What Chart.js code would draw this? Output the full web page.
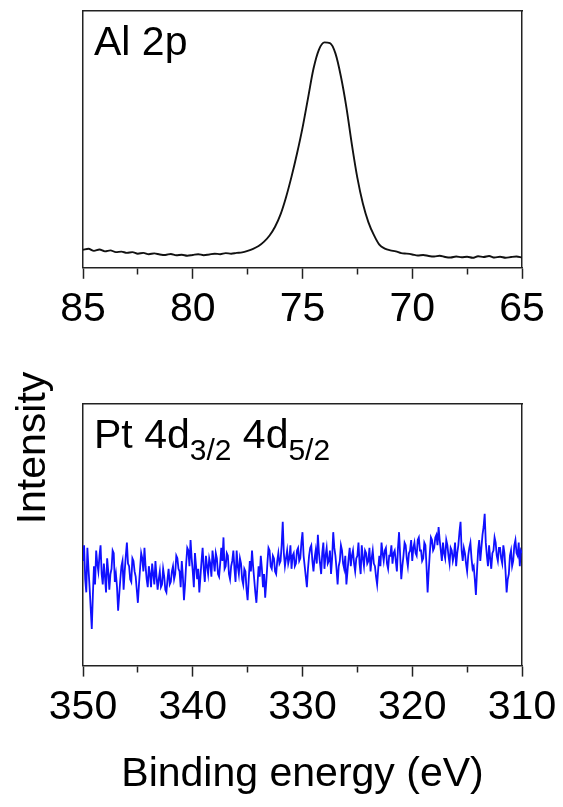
<!DOCTYPE html>
<html>
<head>
<meta charset="utf-8">
<script src="https://cdn.jsdelivr.net/npm/chart.js@4.4.1/dist/chart.umd.min.js"></script>
<style>
html, body { margin: 0; padding: 0; background: #fff; }
body { width: 563px; height: 807px; position: relative; overflow: hidden; }
canvas { position: absolute; left: 0; }
#alChart { top: 0; }
#ptChart { top: 340px; }
</style>
</head>
<body>
<canvas id="alChart" width="563" height="340"></canvas>
<canvas id="ptChart" width="563" height="467"></canvas>
<script>
// Al 2p region (binding energy in eV, intensity in arb. units)
const alEnergy = [
    85, 84.75, 84.5, 84.25, 84, 83.75, 83.5, 83.25, 83, 82.75,
    82.5, 82.25, 82, 81.75, 81.5, 81.25, 81, 80.75, 80.5, 80.25,
    80, 79.75, 79.5, 79.25, 79, 78.75, 78.5, 78.25, 78, 77.75,
    77.5, 77.25, 77, 76.75, 76.5, 76.25, 76, 75.75, 75.5, 75.25,
    75, 74.75, 74.5, 74.25, 74, 73.75, 73.5, 73.25, 73, 72.75,
    72.5, 72.25, 72, 71.75, 71.5, 71.25, 71, 70.75, 70.5, 70.25,
    70, 69.75, 69.5, 69.25, 69, 68.75, 68.5, 68.25, 68, 67.75,
    67.5, 67.25, 67, 66.75, 66.5, 66.25, 66, 65.75, 65.5, 65.25,
    65
];
const alCounts = [
    7.0, 7.4, 6.6, 7.1, 6.4, 6.8, 6.1, 6.3, 5.8, 6.1,
    5.5, 5.8, 5.3, 5.6, 5.2, 5.0, 5.4, 4.9, 5.1, 4.7,
    5.0, 5.3, 4.9, 5.2, 5.5, 5.3, 5.7, 5.5, 5.8, 6.0,
    6.6, 7.4, 8.5, 10.2, 12.6, 16.0, 20.8, 27.5, 35.5, 44.5,
    54.5, 66.0, 77.5, 85.0, 87.8, 87.5, 83.5, 74.5, 62.5, 48.0,
    35.0, 25.0, 17.8, 12.8, 9.0, 7.5, 6.8, 6.4, 5.7, 5.5,
    5.2, 4.8, 5.0, 4.6, 4.4, 4.7, 4.2, 4.0, 4.4, 4.1,
    4.3, 3.9, 4.5, 4.2, 4.6, 4.0, 4.3, 3.9, 4.2, 4.4,
    4.0
];
const alTicks = [85, 80, 75, 70, 65];

// Pt 4d region
const ptEnergy = [
    350, 349.9, 349.8, 349.7, 349.6, 349.5, 349.4, 349.3, 349.2, 349.1, 349, 348.9, 348.8, 348.7, 348.6, 348.5, 348.4, 348.3, 348.2, 348.1,
    348, 347.9, 347.8, 347.7, 347.6, 347.5, 347.4, 347.3, 347.2, 347.1, 347, 346.9, 346.8, 346.7, 346.6, 346.5, 346.4, 346.3, 346.2, 346.1,
    346, 345.9, 345.8, 345.7, 345.6, 345.5, 345.4, 345.3, 345.2, 345.1, 345, 344.9, 344.8, 344.7, 344.6, 344.5, 344.4, 344.3, 344.2, 344.1,
    344, 343.9, 343.8, 343.7, 343.6, 343.5, 343.4, 343.3, 343.2, 343.1, 343, 342.9, 342.8, 342.7, 342.6, 342.5, 342.4, 342.3, 342.2, 342.1,
    342, 341.9, 341.8, 341.7, 341.6, 341.5, 341.4, 341.3, 341.2, 341.1, 341, 340.9, 340.8, 340.7, 340.6, 340.5, 340.4, 340.3, 340.2, 340.1,
    340, 339.9, 339.8, 339.7, 339.6, 339.5, 339.4, 339.3, 339.2, 339.1, 339, 338.9, 338.8, 338.7, 338.6, 338.5, 338.4, 338.3, 338.2, 338.1,
    338, 337.9, 337.8, 337.7, 337.6, 337.5, 337.4, 337.3, 337.2, 337.1, 337, 336.9, 336.8, 336.7, 336.6, 336.5, 336.4, 336.3, 336.2, 336.1,
    336, 335.9, 335.8, 335.7, 335.6, 335.5, 335.4, 335.3, 335.2, 335.1, 335, 334.9, 334.8, 334.7, 334.6, 334.5, 334.4, 334.3, 334.2, 334.1,
    334, 333.9, 333.8, 333.7, 333.6, 333.5, 333.4, 333.3, 333.2, 333.1, 333, 332.9, 332.8, 332.7, 332.6, 332.5, 332.4, 332.3, 332.2, 332.1,
    332, 331.9, 331.8, 331.7, 331.6, 331.5, 331.4, 331.3, 331.2, 331.1, 331, 330.9, 330.8, 330.7, 330.6, 330.5, 330.4, 330.3, 330.2, 330.1,
    330, 329.9, 329.8, 329.7, 329.6, 329.5, 329.4, 329.3, 329.2, 329.1, 329, 328.9, 328.8, 328.7, 328.6, 328.5, 328.4, 328.3, 328.2, 328.1,
    328, 327.9, 327.8, 327.7, 327.6, 327.5, 327.4, 327.3, 327.2, 327.1, 327, 326.9, 326.8, 326.7, 326.6, 326.5, 326.4, 326.3, 326.2, 326.1,
    326, 325.9, 325.8, 325.7, 325.6, 325.5, 325.4, 325.3, 325.2, 325.1, 325, 324.9, 324.8, 324.7, 324.6, 324.5, 324.4, 324.3, 324.2, 324.1,
    324, 323.9, 323.8, 323.7, 323.6, 323.5, 323.4, 323.3, 323.2, 323.1, 323, 322.9, 322.8, 322.7, 322.6, 322.5, 322.4, 322.3, 322.2, 322.1,
    322, 321.9, 321.8, 321.7, 321.6, 321.5, 321.4, 321.3, 321.2, 321.1, 321, 320.9, 320.8, 320.7, 320.6, 320.5, 320.4, 320.3, 320.2, 320.1,
    320, 319.9, 319.8, 319.7, 319.6, 319.5, 319.4, 319.3, 319.2, 319.1, 319, 318.9, 318.8, 318.7, 318.6, 318.5, 318.4, 318.3, 318.2, 318.1,
    318, 317.9, 317.8, 317.7, 317.6, 317.5, 317.4, 317.3, 317.2, 317.1, 317, 316.9, 316.8, 316.7, 316.6, 316.5, 316.4, 316.3, 316.2, 316.1,
    316, 315.9, 315.8, 315.7, 315.6, 315.5, 315.4, 315.3, 315.2, 315.1, 315, 314.9, 314.8, 314.7, 314.6, 314.5, 314.4, 314.3, 314.2, 314.1,
    314, 313.9, 313.8, 313.7, 313.6, 313.5, 313.4, 313.3, 313.2, 313.1, 313, 312.9, 312.8, 312.7, 312.6, 312.5, 312.4, 312.3, 312.2, 312.1,
    312, 311.9, 311.8, 311.7, 311.6, 311.5, 311.4, 311.3, 311.2, 311.1, 311, 310.9, 310.8, 310.7, 310.6, 310.5, 310.4, 310.3, 310.2, 310.1,
    310
];
const ptCounts = [
    40, 46, 33, 28, 45, 37, 30, 22, 14, 27, 38, 31, 44, 39, 36, 42, 46, 35, 31, 39,
    34, 28, 41, 36, 29, 35, 37, 44, 43, 32, 35, 30, 21, 27, 33, 38, 40, 29, 36, 42,
    47, 39, 38, 33, 32, 41, 40, 36, 34, 29, 24, 31, 37, 43, 41, 36, 45, 38, 33, 30,
    38, 35, 30, 39, 35, 31, 40, 34, 29, 33, 36, 30, 31, 37, 34, 29, 28, 33, 37, 31,
    32, 36, 38, 33, 35, 42, 41, 37, 36, 30, 40, 34, 25, 31, 39, 45, 44, 38, 48, 41,
    36, 30, 43, 38, 33, 37, 28, 34, 40, 45, 37, 32, 42, 38, 35, 41, 39, 34, 44, 40,
    36, 43, 41, 35, 34, 39, 45, 40, 49, 37, 38, 43, 42, 35, 33, 38, 40, 44, 37, 32,
    44, 38, 35, 41, 39, 33, 31, 37, 36, 29, 25, 33, 40, 36, 44, 38, 33, 28, 24, 31,
    38, 34, 42, 37, 30, 35, 26, 32, 39, 45, 44, 38, 37, 42, 41, 36, 35, 40, 43, 39,
    40, 46, 55, 43, 38, 41, 44, 39, 41, 46, 37, 42, 43, 38, 39, 44, 45, 40, 41, 47,
    51, 42, 38, 34, 30, 37, 42, 45, 46, 40, 36, 41, 44, 39, 50, 43, 39, 35, 43, 47,
    37, 42, 45, 39, 40, 44, 35, 41, 51, 45, 42, 37, 31, 38, 40, 46, 44, 39, 37, 42,
    31, 36, 41, 45, 38, 42, 44, 39, 36, 41, 42, 47, 39, 35, 46, 41, 38, 44, 43, 39,
    40, 45, 36, 41, 44, 39, 38, 34, 31, 37, 42, 38, 47, 43, 40, 44, 45, 39, 37, 42,
    42, 46, 39, 43, 44, 40, 36, 45, 51, 42, 33, 38, 42, 47, 46, 41, 38, 43, 44, 48,
    40, 45, 47, 43, 42, 48, 49, 44, 44, 40, 41, 47, 46, 38, 28, 36, 43, 49, 48, 44,
    45, 49, 50, 46, 53, 48, 44, 40, 47, 43, 41, 48, 46, 42, 39, 45, 44, 40, 42, 47,
    38, 43, 46, 51, 55, 44, 40, 45, 43, 39, 36, 42, 45, 47, 41, 37, 38, 33, 27, 36,
    44, 48, 40, 45, 50, 53, 58, 47, 42, 38, 46, 41, 37, 43, 44, 49, 47, 42, 40, 45,
    45, 41, 39, 46, 43, 36, 28, 33, 35, 42, 44, 38, 40, 46, 48, 43, 42, 47, 38, 44,
    43
];
const ptTicks = [350, 340, 330, 320, 310];

const FONT = '"Liberation Sans", Arial, Helvetica, sans-serif';
const FRAME = '#222';
Chart.defaults.font.family = FONT;
Chart.defaults.color = '#000';

function xyPoints(xs, ys) {
    return xs.map((x, i) => ({ x: x, y: ys[i] }));
}

// x axes: labelled major ticks + short unlabelled minor ticks in between
function bottomAxis(min, max, step, labelled, extra) {
    return Object.assign({
        type: 'linear',
        position: 'bottom',
        reverse: true,
        min: min,
        max: max,
        grid: {
            drawOnChartArea: false,
            drawTicks: true,
            tickLength: 11,
            tickColor: FRAME,
            tickWidth: 1.5,
            tickBorderDash: ctx => (ctx.tick && labelled.indexOf(ctx.tick.value) < 0) ? [6, 40] : []
        },
        border: { display: true, color: FRAME, width: 1.5 },
        ticks: {
            stepSize: step,
            autoSkip: false,
            maxRotation: 0,
            padding: 6,
            font: { size: 41 },
            callback: v => labelled.indexOf(v) >= 0 ? String(v) : ''
        }
    }, extra || {});
}

function frameAxis(position, min, max) {
    return {
        type: 'linear',
        position: position,
        min: min,
        max: max,
        grid: { display: false, drawTicks: false },
        border: { display: true, color: FRAME, width: 1.5 },
        ticks: { display: false }
    };
}

// panel captions, drawn inside the plot frame
const captionPlugin = {
    id: 'caption',
    afterDraw(chart, args, opts) {
        const ctx = chart.ctx;
        const area = chart.chartArea;
        ctx.save();
        ctx.fillStyle = '#000';
        ctx.textBaseline = 'alphabetic';
        ctx.textAlign = 'left';
        let x = area.left + 11;
        const y = area.top + 44;
        opts.parts.forEach(p => {
            ctx.font = (p.sub ? '30px ' : '41px ') + FONT;
            ctx.fillText(p.text, x, y + (p.sub ? 12 : 0));
            x += ctx.measureText(p.text).width;
        });
        if (opts.yTitle) {
            ctx.font = '41px ' + FONT;
            ctx.textAlign = 'center';
            ctx.translate(45, 108);
            ctx.rotate(-Math.PI / 2);
            ctx.fillText(opts.yTitle, 0, 0);
        }
        ctx.restore();
    }
};

new Chart(document.getElementById('alChart'), {
    type: 'line',
    data: {
        datasets: [{
            data: xyPoints(alEnergy, alCounts),
            borderColor: '#111',
            borderWidth: 1.9,
            pointRadius: 0,
            cubicInterpolationMode: 'monotone',
            fill: false
        }]
    },
    options: {
        responsive: false,
        animation: false,
        layout: { padding: { left: 83, right: 41, top: 11, bottom: 0 } },
        plugins: {
            legend: { display: false },
            tooltip: { enabled: false },
            caption: { parts: [{ text: 'Al 2p' }] }
        },
        scales: {
            x: bottomAxis(65, 85, 2.5, alTicks),
            xTop: frameAxis('top', 65, 85),
            y: frameAxis('left', 0, 100),
            yRight: frameAxis('right', 0, 100)
        }
    },
    plugins: [captionPlugin]
});

new Chart(document.getElementById('ptChart'), {
    type: 'line',
    data: {
        datasets: [{
            data: xyPoints(ptEnergy, ptCounts),
            borderColor: '#1010ff',
            borderWidth: 1.8,
            pointRadius: 0,
            tension: 0,
            fill: false
        }]
    },
    options: {
        responsive: false,
        animation: false,
        layout: { padding: { left: 83, right: 41, top: 64, bottom: 0 } },
        plugins: {
            legend: { display: false },
            tooltip: { enabled: false },
            caption: {
                parts: [
                    { text: 'Pt 4d' }, { text: '3/2', sub: true },
                    { text: ' 4d' }, { text: '5/2', sub: true }
                ],
                yTitle: 'Intensity'
            }
        },
        scales: {
            x: bottomAxis(310, 350, 5, ptTicks, {
                title: {
                    display: true,
                    text: 'Binding energy (eV)',
                    font: { size: 41 },
                    padding: { top: 12, bottom: 8 }
                }
            }),
            xTop: frameAxis('top', 310, 350),
            y: frameAxis('left', 0, 100),
            yRight: frameAxis('right', 0, 100)
        }
    },
    plugins: [captionPlugin]
});
</script>
</body>
</html>
